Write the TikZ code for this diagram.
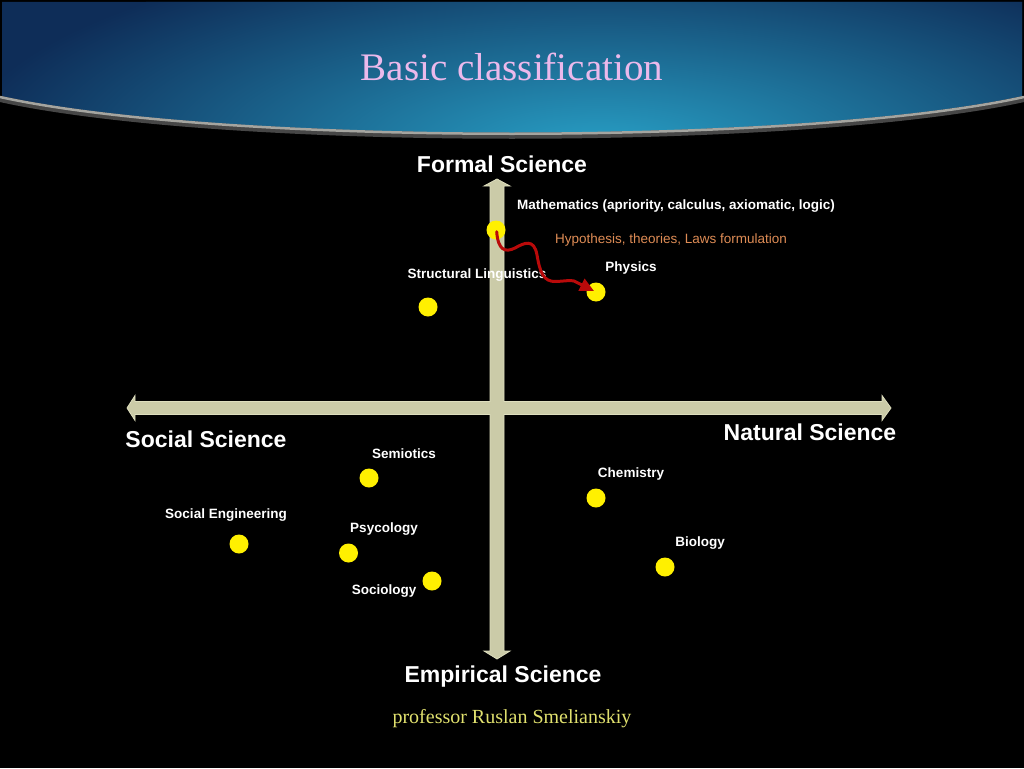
\documentclass[tikz,border=0pt]{standalone}
\usepackage{fontspec}
\setmainfont{Liberation Serif}
\newfontfamily\arialfont{Liberation Sans}
\usetikzlibrary{arrows.meta}

\definecolor{barfill}{RGB}{203,203,168}
\definecolor{baredge}{RGB}{222,222,190}
\definecolor{dotyellow}{RGB}{255,240,0}
\definecolor{curvered}{RGB}{185,10,10}
\definecolor{hypo}{RGB}{222,140,85}
\definecolor{titlepink}{RGB}{235,185,235}
\definecolor{profyellow}{RGB}{225,225,110}
\definecolor{deepblue}{RGB}{14,45,88}
\definecolor{lightcyan}{RGB}{40,160,198}
\definecolor{rimlight}{RGB}{165,165,160}
\definecolor{rimdark}{RGB}{70,70,70}

\tikzset{
  dot/.style={circle, fill=dotyellow, inner sep=0pt, minimum size=19pt},
  axislabel/.style={font=\arialfont\bfseries\fontsize{23}{26}\selectfont, text=white, inner sep=0pt},
  smalllabel/.style={font=\arialfont\bfseries\fontsize{13.5}{15}\selectfont, text=white, inner sep=0pt},
  axisbar/.style={fill=barfill, draw=baredge, line width=0.8pt, line join=miter}
}

\begin{document}
\begin{tikzpicture}[x=1pt,y=-1pt]
\useasboundingbox (0,0) rectangle (1024,768);
\fill[black] (0,0) rectangle (1024,768);

% header band
\begin{scope}
  \clip (2,2) -- (1022,2) -- (1022,96) .. controls (800,145) and (224,145) .. (2,96) -- cycle;
  \fill[deepblue] (0,0) rectangle (1024,150);
  \shade[inner color=lightcyan, outer color=deepblue] (600,150) ellipse [x radius=640, y radius=210];
\end{scope}
\draw[rimdark, line width=6pt] (0,99) .. controls (224,148) and (800,148) .. (1024,99);
\draw[rimlight, line width=2.5pt] (0,97) .. controls (224,146) and (800,146) .. (1024,97);

\node[font=\fontsize{39}{44}\selectfont, text=titlepink, inner sep=0pt] (title) at (512,67) {Basic classification};

% axes
\path[axisbar] (127,408) -- (135,395.5) -- (135,401.5) -- (490,401.5) -- (490,186) -- (484,186) -- (497,179)
  -- (510,186) -- (504,186) -- (504,401.5) -- (882,401.5) -- (882,395.5) -- (891,408) -- (882,420.5)
  -- (882,414.5) -- (504,414.5) -- (504,651) -- (510,651) -- (497,659) -- (484,651) -- (490,651)
  -- (490,414.5) -- (135,414.5) -- (135,420.5) -- cycle;

\node[axislabel] (formal) at (502,164) {Formal Science};
\node[axislabel] (empirical) at (503,677) {Empirical Science};
\node[axislabel] (social) at (206,439) {Social Science};
\node[axislabel] (natural) at (810,432) {Natural Science};

% dots
\node[dot] (math) at (496,230) {};
\node[dot] (physics) at (596,292) {};
\node[dot] (structling) at (428,307) {};
\node[dot] (semiotics) at (369,478) {};
\node[dot] (chemistry) at (596,498) {};
\node[dot] (socialeng) at (239,544) {};
\node[dot] (psycology) at (348.5,553) {};
\node[dot] (biology) at (665,567) {};
\node[dot] (sociology) at (432,581) {};

% labels
\node[smalllabel] (lmath) at (676,206.5) {Mathematics (apriority, calculus, axiomatic, logic)};
\node[font=\arialfont\fontsize{13.5}{15}\selectfont, text=hypo, inner sep=0pt] (lhypo) at (671,240.5) {Hypothesis, theories, Laws formulation};
\node[smalllabel] (lphysics) at (631,268.5) {Physics};
\node[smalllabel] (lstruct) at (477,275.5) {Structural Linguistics};
\node[smalllabel] (lsemio) at (404,453.5) {Semiotics};
\node[smalllabel] (lchem) at (631,474.5) {Chemistry};
\node[smalllabel] (lsoceng) at (226,515.5) {Social Engineering};
\node[smalllabel] (lpsy) at (384,529.5) {Psycology};
\node[smalllabel] (lbio) at (700,543.5) {Biology};
\node[smalllabel] (lsoc) at (384,591.5) {Sociology};

% red curved arrow
\coordinate (cstart) at (496.7,231.7);
\coordinate (cend) at (594,291);
\draw[curvered, line width=3pt, line cap=round, -{Triangle[length=14pt,width=13pt]}]
  (cstart) .. controls (498,250) and (505,253) .. (515,248)
  .. controls (524,243) and (534,238) .. (537,255)
  .. controls (540,272) and (543,282) .. (556,281.5)
  .. controls (566,281) and (570,280) .. (574,281) -- (cend);

\node[font=\fontsize{20}{24}\selectfont, text=profyellow, inner sep=0pt] (prof) at (512,719) {professor Ruslan Smelianskiy};
\end{tikzpicture}
\end{document}
